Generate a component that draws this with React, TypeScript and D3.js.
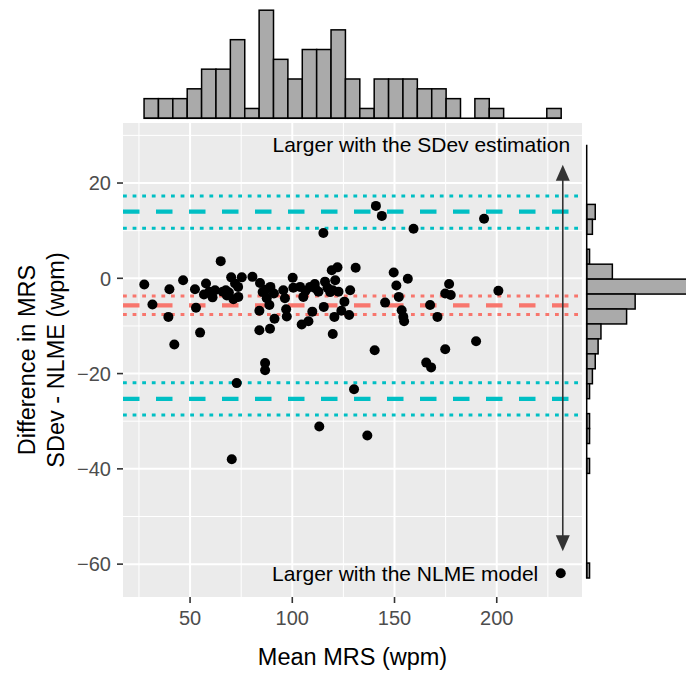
import React from "react";
import * as d3 from "d3";

// ---- data ----
const meanMRS = [
  27.6, 31.6, 39.4, 39.9, 42.3, 46.6, 52.4, 52.9, 54.9, 56.8,
  57.8, 59.5, 61.0, 62.2, 65.0, 66.0, 67.5, 68.0, 69.0, 70.1,
  70.4, 71.2, 72.0, 72.8, 73.5, 73.6, 75.3, 80.5, 83.9, 83.9,
  84.2, 85.5, 86.7, 86.7, 87.0, 87.5, 88.8, 89.1, 89.3, 91.0,
  91.3, 95.6, 96.4, 97.0, 97.3, 100.2, 100.5, 103.8, 104.6, 105.4,
  106.5, 107.9, 108.7, 109.8, 111.0, 111.2, 112.8, 113.2, 115.2, 115.4,
  116.0, 117.2, 118.5, 119.3, 119.8, 119.8, 120.6, 121.0, 122.1, 122.6,
  124.0, 125.5, 127.8, 128.3, 130.2, 131.0, 136.7, 140.3, 140.9, 143.8,
  145.4, 149.6, 150.9, 152.1, 153.5, 154.3, 154.7, 156.5, 159.3, 165.5,
  167.4, 167.9, 171.0, 174.8, 174.8, 176.7, 177.5, 189.9, 193.8, 200.8,
];
const diffMRS = [
  -1.3, -5.5, -8.1, -2.3, -13.9, -0.4, -2.3, -6.2, -11.4, -3.4,
  -1.1, -2.8, -4.0, -2.5, 3.6, -2.8, -2.5, -3.6, -3.0, 0.2,
  -38.0, -4.4, -1.1, -22.0, -1.8, -3.9, 0.2, 0.3, -6.8, -10.9,
  -1.0, -2.9, -17.8, -19.3, -2.4, -4.2, -5.6, -10.6, -1.8, -3.2,
  -8.5, -2.5, -4.2, -6.5, -8.0, 0.1, -2.0, -1.8, -9.7, -3.9,
  -2.6, -9.0, -1.8, -7.0, -1.2, -2.1, -2.8, -31.1, 9.5, -6.0,
  -0.7, -2.0, -2.9, 1.7, -2.5, -11.7, -8.1, -0.4, 2.3, -2.8,
  -6.8, -4.9, -7.7, -2.5, -23.3, 2.2, -33.0, -15.1, 15.2, 13.1,
  -5.1, 1.2, -1.5, -3.9, -6.7, -8.1, -9.0, -0.1, 10.4, -17.7,
  -5.6, -18.7, -8.1, -14.9, -3.2, -1.2, -3.5, -13.2, 12.5, -2.6,
];
const legendPoint = [231.3, -61.9];

// limits of agreement: [upper CI, estimate, lower CI]
const upperLoA = [17.3, 14.0, 10.5];
const biasLine = [-3.7, -5.7, -7.6];
const lowerLoA = [-21.9, -25.3, -28.7];

const xTicks = [50, 100, 150, 200];
const xMinor = [25, 75, 125, 175, 225];
const yTicks = [20, 0, -20, -40, -60];
const yMinor = [30, 10, -10, -30, -50];

// marginal histograms (counts)
const topHistStart = 27.5;
const topHistWidth = 7.035;
const topHistCounts = [2, 2, 2, 3, 5, 5, 8, 1, 11, 6, 4, 7, 7, 9, 4, 1, 4, 4, 4, 3, 3, 2, 0, 2, 1, 0, 0, 0, 1];
const rightHistStart = 28.06;
const rightHistWidth = 3.137;
const rightHistCounts = [0, 0, 0, 0, 3, 2, 0, 1, 9, 36, 17, 14, 5, 4, 3, 2, 1, 0, 1, 1, 0, 1, 0, 0, 0, 0, 0, 0, 1];

const topLabel = "Larger with the SDev estimation";
const topLabelPos = [235.9, 28.06];
const bottomLabel = "Larger with the NLME model";
const bottomLabelPos = [220.3, -61.9];
const arrowX = 232.3;
const arrowY = [23.85, -57.3];

const W = 686;
const H = 673;
const FONT = "'Liberation Sans', Arial, Helvetica, sans-serif";

export default function App() {
  const pL = 123, pR = 582, pT = 123, pB = 597;
  const x = d3.scaleLinear().domain([17.2, 241.7]).range([pL, pR]);
  const y = d3.scaleLinear().domain([-66.9, 32.6]).range([pB, pT]);

  const topBase = 118.3;
  const topY = d3.scaleLinear().domain([0, 11]).range([topBase, topBase - 108.1]);
  const rightBase = 586.7;
  const rightX = d3.scaleLinear().domain([0, 36]).range([rightBase, rightBase + 102.6]);

  const cyan = "#00BFC4";
  const red = "#F8766D";

  const hline = (v: number, color: string, kind: "dash" | "dot", key: string) => (
    <line
      key={key}
      x1={pL}
      x2={pR}
      y1={y(v)}
      y2={y(v)}
      stroke={color}
      strokeWidth={kind === "dash" ? 4.2 : 3}
      strokeDasharray={kind === "dash" ? "16.5,16.5" : "3.8,5.8"}
    />
  );

  const ax = x(arrowX);
  const aTop = y(arrowY[0]);
  const aBot = y(arrowY[1]);
  const headL = 16, headW = 7;

  return (
    <svg
      width={W}
      height={H}
      style={{ position: "absolute", left: 0, top: 0, background: "#fff" }}
      fontFamily={FONT}
    >
      <rect x={0} y={0} width={W} height={H} fill="#fff" />
      {/* panel */}
      <rect x={pL} y={pT} width={pR - pL} height={pB - pT} fill="#EBEBEB" />
      {xMinor.map((v) => (
        <line key={"xm" + v} x1={x(v)} x2={x(v)} y1={pT} y2={pB} stroke="#fff" strokeWidth={1} />
      ))}
      {yMinor.map((v) => (
        <line key={"ym" + v} x1={pL} x2={pR} y1={y(v)} y2={y(v)} stroke="#fff" strokeWidth={1} />
      ))}
      {xTicks.map((v) => (
        <line key={"xg" + v} x1={x(v)} x2={x(v)} y1={pT} y2={pB} stroke="#fff" strokeWidth={2} />
      ))}
      {yTicks.map((v) => (
        <line key={"yg" + v} x1={pL} x2={pR} y1={y(v)} y2={y(v)} stroke="#fff" strokeWidth={2} />
      ))}

      {/* limits */}
      {hline(upperLoA[0], cyan, "dot", "u0")}
      {hline(upperLoA[1], cyan, "dash", "u1")}
      {hline(upperLoA[2], cyan, "dot", "u2")}
      {hline(lowerLoA[0], cyan, "dot", "l0")}
      {hline(lowerLoA[1], cyan, "dash", "l1")}
      {hline(lowerLoA[2], cyan, "dot", "l2")}
      {hline(biasLine[0], red, "dot", "b0")}
      {hline(biasLine[1], red, "dash", "b1")}
      {hline(biasLine[2], red, "dot", "b2")}

      {/* arrow */}
      <line x1={ax} x2={ax} y1={aTop + headL - 2} y2={aBot - headL + 2} stroke="#333" strokeWidth={1.6} />
      <path d={`M${ax},${aTop} L${ax - headW},${aTop + headL} L${ax + headW},${aTop + headL} Z`} fill="#333" />
      <path d={`M${ax},${aBot} L${ax - headW},${aBot - headL} L${ax + headW},${aBot - headL} Z`} fill="#333" />

      {/* points */}
      {meanMRS.map((m, i) => (
        <circle key={"p" + i} cx={x(m)} cy={y(diffMRS[i])} r={5} fill="#000" />
      ))}
      <circle cx={x(legendPoint[0])} cy={y(legendPoint[1])} r={5} fill="#000" />

      {/* annotations */}
      <text x={x(topLabelPos[0])} y={y(topLabelPos[1])} dy="0.36em" textAnchor="end" fontSize={21} fill="#000">
        {topLabel}
      </text>
      <text x={x(bottomLabelPos[0])} y={y(bottomLabelPos[1])} dy="0.36em" textAnchor="end" fontSize={21} fill="#000">
        {bottomLabel}
      </text>

      {/* axes ticks */}
      {xTicks.map((v) => (
        <g key={"xt" + v}>
          <line x1={x(v)} x2={x(v)} y1={pB} y2={pB + 6} stroke="#333" strokeWidth={1.6} />
          <text x={x(v)} y={625} textAnchor="middle" fontSize={20} fill="#4D4D4D">
            {v}
          </text>
        </g>
      ))}
      {yTicks.map((v) => (
        <g key={"yt" + v}>
          <line x1={pL - 6} x2={pL} y1={y(v)} y2={y(v)} stroke="#333" strokeWidth={1.6} />
          <text x={111} y={y(v)} dy="0.36em" textAnchor="end" fontSize={20} fill="#4D4D4D">
            {v < 0 ? "\u2212" + Math.abs(v) : v}
          </text>
        </g>
      ))}

      {/* axis titles */}
      <text x={(pL + pR) / 2} y={665} textAnchor="middle" fontSize={23.5} fill="#000">
        Mean MRS (wpm)
      </text>
      <text transform={`translate(35,${(pT + pB) / 2}) rotate(-90)`} textAnchor="middle" fontSize={23.5} fill="#000">
        Difference in MRS
      </text>
      <text transform={`translate(64,${(pT + pB) / 2}) rotate(-90)`} textAnchor="middle" fontSize={23.5} fill="#000">
        SDev - NLME (wpm)
      </text>

      {/* top marginal histogram */}
      {topHistCounts.map((c, i) => {
        const x0 = x(topHistStart + i * topHistWidth);
        const x1 = x(topHistStart + (i + 1) * topHistWidth);
        return c > 0 ? (
          <rect key={"th" + i} x={x0} y={topY(c)} width={x1 - x0} height={topBase - topY(c)} fill="#AAAAAA" stroke="#000" strokeWidth={1.5} />
        ) : null;
      })}
      <line
        x1={x(topHistStart)}
        x2={x(topHistStart + topHistCounts.length * topHistWidth)}
        y1={topBase}
        y2={topBase}
        stroke="#000"
        strokeWidth={1.5}
      />

      {/* right marginal histogram */}
      {rightHistCounts.map((c, i) => {
        const y0 = y(rightHistStart - i * rightHistWidth);
        const y1 = y(rightHistStart - (i + 1) * rightHistWidth);
        return c > 0 ? (
          <rect key={"rh" + i} x={rightBase} y={y0} width={rightX(c) - rightBase} height={y1 - y0} fill="#AAAAAA" stroke="#000" strokeWidth={1.5} />
        ) : null;
      })}
      <line
        x1={rightBase}
        x2={rightBase}
        y1={y(rightHistStart)}
        y2={y(rightHistStart - rightHistCounts.length * rightHistWidth)}
        stroke="#000"
        strokeWidth={1.5}
      />
    </svg>
  );
}
